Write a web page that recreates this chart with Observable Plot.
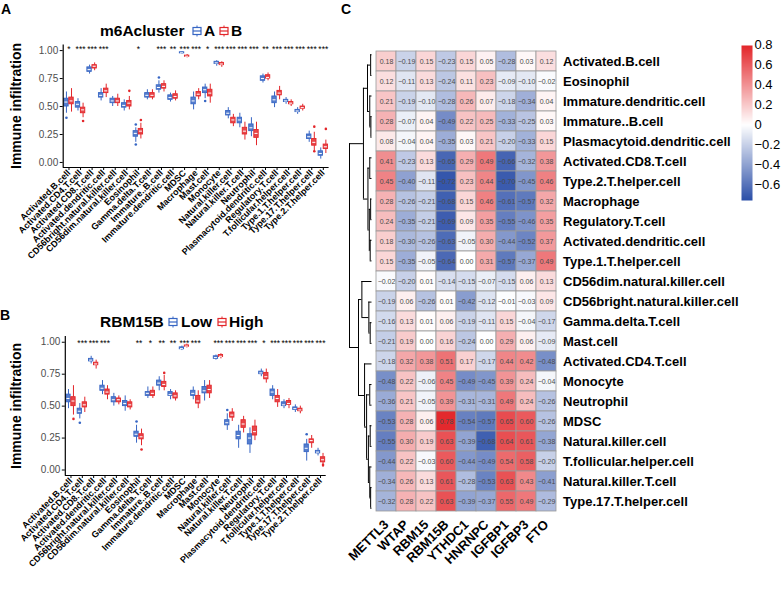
<!DOCTYPE html>
<html><head><meta charset="utf-8">
<script src="https://cdn.jsdelivr.net/npm/d3@7"></script>
<script src="https://cdn.jsdelivr.net/npm/@observablehq/plot@0.6"></script>
<style>
body{margin:0;background:#fff;}
#wrap{position:relative;width:784px;height:593px;overflow:hidden;font-family:"Liberation Sans",Arial,sans-serif;color:#000;}
.lbl{position:absolute;font-weight:bold;white-space:nowrap;line-height:1;}
</style></head><body><div id="wrap"></div>
<script>
// ---------------- DATA ----------------
const cells = ["Activated.B.cell","Activated.CD4.T.cell","Activated.CD8.T.cell","Activated.dendritic.cell","CD56bright.natural.killer.cell","CD56dim.natural.killer.cell","Eosinophil","Gamma.delta.T.cell","Immature..B.cell","Immature.dendritic.cell","MDSC","Macrophage","Mast.cell","Monocyte","Natural.killer.cell","Natural.killer.T.cell","Neutrophil","Plasmacytoid.dendritic.cell","Regulatory.T.cell","T.follicular.helper.cell","Type.1.T.helper.cell","Type.17.T.helper.cell","Type.2.T.helper.cell"];

// Panel A: m6Acluster A (blue) / B (red)
const clA_med = [.54,.52,.83,.60,.55,.51,.26,.60,.67,.58,.98,.55,.65,.89,.44,.38,.31,.75,.56,.55,.46,.23,.08];
const clA_q1  = [.50,.49,.81,.58,.53,.49,.23,.58,.65,.56,.975,.52,.62,.88,.42,.35,.28,.73,.53,.54,.45,.21,.06];
const clA_q3  = [.57,.54,.85,.62,.57,.53,.28,.62,.69,.60,.985,.58,.67,.90,.46,.40,.34,.77,.59,.56,.47,.25,.10];
const clA_lo  = [.44,.46,.79,.55,.50,.46,.18,.56,.62,.54,.965,.47,.57,.86,.39,.31,.23,.71,.49,.52,.43,.18,.03];
const clA_hi  = [.63,.57,.87,.66,.59,.56,.31,.65,.73,.62,.99,.63,.70,.91,.49,.44,.40,.79,.63,.58,.49,.28,.13];
const clB_med = [.55,.47,.86,.64,.55,.53,.28,.60,.68,.59,.95,.61,.62,.88,.38,.28,.26,.76,.62,.53,.49,.18,.14];
const clB_q1  = [.52,.44,.84,.62,.53,.50,.25,.58,.66,.57,.945,.59,.59,.87,.35,.25,.22,.75,.60,.52,.48,.15,.12];
const clB_q3  = [.58,.49,.87,.66,.57,.55,.30,.62,.70,.61,.955,.63,.65,.89,.40,.31,.29,.78,.64,.54,.50,.21,.16];
const clB_lo  = [.45,.40,.82,.58,.50,.47,.21,.56,.63,.55,.935,.56,.53,.85,.32,.20,.15,.73,.56,.50,.46,.10,.08];
const clB_hi  = [.66,.53,.89,.70,.61,.59,.35,.65,.73,.64,.965,.66,.70,.90,.43,.36,.36,.80,.68,.56,.52,.27,.20];
const clSig   = ["*","***","***","***","","","*","","***","**","***","***","*","***","***","***","***","**","***","***","***","***","***"];
const clA_outIdx = [0,6,6,8,12];
const clA_outVal = [.40,.16,.34,.76,.55];
const clB_outIdx = [1,5,6,21,21,22];
const clB_outVal = [.37,.64,.38,.32,.10,.30];

// Panel B: RBM15B Low (blue) / High (red)
const lowMed = [.56,.46,.86,.64,.55,.52,.28,.60,.68,.59,.95,.60,.62,.88,.37,.27,.25,.76,.61,.51,.48,.17,.14];
const lowQ1  = [.53,.44,.85,.62,.53,.50,.26,.58,.66,.58,.945,.58,.60,.87,.35,.24,.20,.75,.58,.50,.47,.14,.13];
const lowQ3  = [.59,.48,.87,.66,.57,.54,.30,.61,.70,.61,.96,.62,.65,.89,.39,.30,.28,.77,.63,.53,.49,.20,.15];
const lowLo  = [.48,.40,.83,.59,.50,.46,.21,.56,.62,.55,.935,.55,.54,.86,.31,.17,.13,.73,.55,.48,.45,.07,.11];
const lowHi  = [.63,.52,.89,.70,.60,.58,.35,.65,.73,.63,.97,.65,.70,.90,.44,.35,.33,.79,.66,.55,.51,.24,.17];
const highMed = [.54,.51,.83,.61,.55,.51,.26,.60,.67,.58,.97,.54,.63,.89,.43,.36,.30,.73,.56,.52,.47,.23,.08];
const highQ1  = [.50,.49,.82,.59,.53,.49,.24,.58,.65,.56,.965,.52,.60,.885,.41,.33,.27,.71,.53,.51,.46,.21,.06];
const highQ3  = [.57,.53,.84,.63,.56,.53,.28,.62,.69,.60,.975,.58,.66,.90,.45,.39,.34,.76,.58,.54,.48,.24,.10];
const highLo  = [.43,.45,.79,.55,.51,.47,.19,.56,.62,.54,.955,.48,.56,.87,.38,.29,.23,.68,.49,.48,.44,.17,.02];
const highHi  = [.66,.57,.86,.66,.58,.55,.32,.65,.74,.62,.985,.62,.70,.91,.48,.42,.39,.79,.63,.56,.50,.27,.13];
const rbSig   = ["","***","***","***","","","**","*","**","**","***","***","","***","***","***","***","*","***","***","***","***","***"];
const lowOutIdx = [1,6,14,21];
const lowOutVal = [.37,.38,.47,.28];
const highOutIdx = [0,6,8,22];
const highOutVal = [.40,.16,.76,.04];

// Panel C: correlation heatmap
const hmRows = ["Activated.B.cell","Eosinophil","Immature.dendritic.cell","Immature..B.cell","Plasmacytoid.dendritic.cell","Activated.CD8.T.cell","Type.2.T.helper.cell","Macrophage","Regulatory.T.cell","Activated.dendritic.cell","Type.1.T.helper.cell","CD56dim.natural.killer.cell","CD56bright.natural.killer.cell","Gamma.delta.T.cell","Mast.cell","Activated.CD4.T.cell","Monocyte","Neutrophil","MDSC","Natural.killer.cell","T.follicular.helper.cell","Natural.killer.T.cell","Type.17.T.helper.cell"];
const genes = ["METTL3","WTAP","RBM15","RBM15B","YTHDC1","HNRNPC","IGFBP1","IGFBP3","FTO"];
const METTL3 = [0.18,0.12,0.21,0.28,0.08,0.41,0.45,0.28,0.24,0.18,0.15,-0.02,-0.19,-0.16,-0.21,-0.18,-0.48,-0.36,-0.53,-0.55,-0.44,-0.34,-0.32];
const WTAP   = [-0.19,-0.11,-0.19,-0.07,-0.04,-0.23,-0.40,-0.26,-0.35,-0.30,-0.35,-0.20,0.06,0.13,0.19,0.32,0.22,0.21,0.28,0.30,0.22,0.26,0.28];
const RBM15  = [0.15,0.13,-0.10,0.04,0.04,0.13,-0.11,-0.21,-0.21,-0.26,-0.05,0.01,-0.26,0.01,0.00,0.38,-0.06,-0.05,0.06,0.19,-0.03,0.13,0.22];
const RBM15B = [-0.23,-0.24,-0.28,-0.49,-0.35,-0.65,-0.72,-0.68,-0.69,-0.63,-0.64,-0.14,0.01,0.06,0.16,0.51,0.45,0.39,0.78,0.63,0.60,0.61,0.63];
const YTHDC1 = [0.15,0.11,0.26,0.22,0.03,0.29,0.23,0.15,0.09,-0.05,0.00,-0.15,-0.42,-0.19,-0.24,0.17,-0.49,-0.31,-0.54,-0.39,-0.44,-0.28,-0.39];
const HNRNPC = [0.05,0.23,0.07,0.25,0.21,0.49,0.44,0.46,0.35,0.30,0.31,-0.07,-0.12,-0.11,-0.004,-0.17,-0.45,-0.31,-0.57,-0.68,-0.49,-0.53,-0.37];
const IGFBP1 = [-0.28,-0.09,-0.18,-0.33,-0.20,-0.66,-0.70,-0.61,-0.55,-0.44,-0.57,-0.15,-0.01,0.15,0.29,0.44,0.39,0.49,0.65,0.64,0.54,0.63,0.55];
const IGFBP3 = [0.03,-0.10,-0.34,-0.25,-0.33,-0.32,-0.45,-0.57,-0.46,-0.52,-0.37,0.06,-0.03,-0.04,0.06,0.42,0.24,0.24,0.60,0.61,0.58,0.43,0.49];
const FTO    = [0.12,-0.02,0.04,0.03,0.15,0.38,0.46,0.32,0.35,0.37,0.49,0.13,0.09,-0.17,-0.09,-0.48,-0.04,-0.26,-0.26,-0.38,-0.20,-0.41,-0.29];
const colorTicks = [-0.6,-0.4,-0.2,0,0.2,0.4,0.6,0.8];

// row dendrogram (hclust-style merges: negative = leaf (row index + 1), positive = earlier merge number)
const dendLeft   = [-1,-4,-3, 1,-8,-10, 5,-6, 8, 4,-14,-13,-12,-17,-19,-22,-21,15,14,-16,13,10];
const dendRight  = [-2,-5, 2, 3,-9,-11, 6,-7, 7, 9,-15, 11, 12,-18,-20,-23, 16,17,18, 19,20,21];
const dendHeight = [0.06,0.05,0.10,0.20,0.06,0.08,0.12,0.10,0.18,0.38,0.08,0.14,0.45,0.10,0.08,0.06,0.10,0.16,0.24,0.33,0.60,1.00];

// ---------------- DRAW ----------------
const W = 784, H = 593;
const wrap = document.getElementById("wrap");
const FONT = "'Liberation Sans', Arial, Helvetica, sans-serif";
const BLUE = "#3766c4", RED = "#e3262a";
const baseStyle = {position:"absolute", left:"0px", top:"0px", fontFamily:FONT, overflow:"visible", background:"transparent"};

function groupRows(med,q1,q3,lo,hi,off){
  return cells.map((c,i)=>({pos:i+off, med:med[i], q1:q1[i], q3:q3[i], lo:lo[i], hi:hi[i]}));
}
const BW = 0.19;
function boxMarks(rows, outIdx, outVal, off, color){
  const outs = outIdx.map((i,k)=>({pos:i+off, v:outVal[k]}));
  return [
    Plot.ruleX(rows,{x:"pos",y1:"lo",y2:"q1",stroke:color,strokeWidth:1}),
    Plot.ruleX(rows,{x:"pos",y1:"q3",y2:"hi",stroke:color,strokeWidth:1}),
    Plot.rect(rows,{x1:d=>d.pos-BW,x2:d=>d.pos+BW,y1:"q1",y2:"q3",fill:color,fillOpacity:0.85,stroke:color,strokeWidth:0.9}),
    Plot.ruleY(rows,{y:"med",x1:d=>d.pos-BW*0.7,x2:d=>d.pos+BW*0.7,stroke:"white",strokeWidth:1}),
    Plot.dot(outs,{x:"pos",y:"v",r:1.3,fill:color})
  ];
}
function boxPanel(o){
  const off = 0.22;
  const g1 = groupRows(...o.g1, -off), g2 = groupRows(...o.g2, off);
  return Plot.plot({
    width:W, height:H,
    marginLeft:o.left, marginRight:W-o.right, marginTop:o.top, marginBottom:H-o.bottom,
    style: baseStyle,
    x:{domain:[-0.5,22.5]},
    y:{domain:o.ydom},
    marks:[
      ...boxMarks(g1, o.o1[0], o.o1[1], -off, BLUE),
      ...boxMarks(g2, o.o2[0], o.o2[1], off, RED),
      Plot.text(o.sig.map((s,i)=>({i,s})),{x:"i",y:o.starY,text:"s",fontSize:8.5,fill:"black"}),
      Plot.ruleX([-0.5],{stroke:"black",strokeWidth:1.2}),
      Plot.ruleY([o.ydom[0]],{stroke:"black",strokeWidth:1.2}),
      Plot.axisY({ticks:[0,0.25,0.5,0.75,1],tickFormat:d3.format(".2f"),tickSize:3,tickPadding:2,fontSize:10,fill:"#4d4d4d",stroke:"black",label:null}),
      Plot.axisX({ticks:d3.range(cells.length),tickFormat:i=>cells[i],tickRotate:-45,tickSize:3,tickPadding:1,fontSize:9,fontWeight:"bold",fill:"black",stroke:"black",label:null})
    ]
  });
}

wrap.appendChild(boxPanel({
  left:62.7, right:328.6, top:44.5, bottom:167, ydom:[-0.045,1.05], starY:1.01,
  g1:[clA_med,clA_q1,clA_q3,clA_lo,clA_hi], g2:[clB_med,clB_q1,clB_q3,clB_lo,clB_hi],
  o1:[clA_outIdx,clA_outVal], o2:[clB_outIdx,clB_outVal], sig:clSig
}));
wrap.appendChild(boxPanel({
  left:64.8, right:325.7, top:336, bottom:475, ydom:[-0.043,1.045], starY:0.99,
  g1:[lowMed,lowQ1,lowQ3,lowLo,lowHi], g2:[highMed,highQ1,highQ3,highLo,highHi],
  o1:[lowOutIdx,lowOutVal], o2:[highOutIdx,highOutVal], sig:rbSig
}));

// heatmap
const geneVals = {METTL3,WTAP,RBM15,RBM15B,YTHDC1,HNRNPC,IGFBP1,IGFBP3,FTO};
const hmData = [];
hmRows.forEach((r,i)=>genes.forEach(g=>hmData.push({row:r, gene:g, v:geneVals[g][i]})));
const colorScale = {type:"linear", domain:[-0.756,0,0.79], range:["#2b4ea8","#ffffff","#e3262a"], interpolate:"rgb", clamp:true};
const fmt = v => d3.format(".2f")(v).replace("-", "\u2212");
const fmtLegend = v => String(v).replace("-", "\u2212");
wrap.appendChild(Plot.plot({
  width:W, height:H, marginLeft:373, marginRight:W-558.5, marginTop:44, marginBottom:H-518,
  style: baseStyle,
  x:{domain:genes, padding:0},
  y:{domain:hmRows, padding:0},
  color: colorScale,
  marks:[
    Plot.cell(hmData,{x:"gene",y:"row",fill:"v",stroke:"#9a9a9a",strokeWidth:0.8}),
    Plot.text(hmData,{x:"gene",y:"row",text:d=>fmt(d.v),fontSize:7,fill:"#4a4a4a"}),
    Plot.axisY({anchor:"right",tickSize:0,tickPadding:4,fontSize:13,fontWeight:"bold",fill:"black",label:null}),
    Plot.axisX({anchor:"bottom",tickSize:0,tickPadding:4,tickRotate:-45,fontSize:13,fontWeight:"bold",fill:"black",label:null})
  ]
}));

// dendrogram
const nLeaf = hmRows.length;
const nodes = [];
function nodePos(ref){ return ref < 0 ? {y:-ref-1, h:0} : nodes[ref-1]; }
const vSeg = [], hSeg = [];
dendLeft.forEach((l,k)=>{
  const a = nodePos(l), b = nodePos(dendRight[k]), h = dendHeight[k];
  vSeg.push({x:h, y1:a.y, y2:b.y});
  hSeg.push({y:a.y, x1:a.h, x2:h});
  hSeg.push({y:b.y, x1:b.h, x2:h});
  nodes.push({y:(a.y+b.y)/2, h});
});
wrap.appendChild(Plot.plot({
  width:W, height:H, marginLeft:349, marginRight:W-371.5, marginTop:44, marginBottom:H-518,
  style: baseStyle,
  x:{domain:[1,0], axis:null},
  y:{domain:[-0.5,nLeaf-0.5], reverse:true, axis:null},
  marks:[
    Plot.ruleX(vSeg,{x:"x",y1:"y1",y2:"y2",stroke:"black",strokeWidth:1}),
    Plot.ruleY(hSeg,{y:"y",x1:"x1",x2:"x2",stroke:"black",strokeWidth:1})
  ]
}));

// colour bar
wrap.appendChild(Plot.plot({
  width:W, height:H, marginLeft:741, marginRight:W-752, marginTop:45, marginBottom:H-200,
  style: baseStyle,
  x:{domain:[0,1], axis:null},
  y:{domain:[-0.756,0.79]},
  color: colorScale,
  marks:[
    Plot.raster({x1:0,x2:1,y1:-0.756,y2:0.79,fill:(x,y)=>y,pixelSize:1}),
    Plot.axisY({anchor:"right",ticks:colorTicks,tickFormat:fmtLegend,tickSize:0,tickPadding:2,fontSize:13,fill:"black",label:null})
  ]
}));

// ---------------- TEXT / LEGENDS ----------------
function addText(txt, x, y, size, extra){
  const d = document.createElement("div");
  d.className = "lbl"; d.textContent = txt;
  d.style.left = x+"px"; d.style.top = y+"px"; d.style.fontSize = size+"px";
  if (extra) Object.assign(d.style, extra);
  wrap.appendChild(d); return d;
}
function boxIcon(x, y, color){
  const ns = "http://www.w3.org/2000/svg";
  const s = document.createElementNS(ns,"svg");
  s.setAttribute("width",10); s.setAttribute("height",12);
  s.style.position="absolute"; s.style.left=x+"px"; s.style.top=y+"px";
  s.innerHTML = `<line x1="5" y1="0.5" x2="5" y2="11.5" stroke="${color}" stroke-width="1"/>
    <rect x="1" y="2.5" width="8" height="7" fill="white" stroke="${color}" stroke-width="1.2"/>
    <line x1="1" y1="6" x2="9" y2="6" stroke="${color}" stroke-width="1.2"/>`;
  wrap.appendChild(s);
}
addText("A", 1, 2, 14);
addText("B", 0, 308, 14);
addText("C", 341, 2, 14);
// panel A title & legend
addText("m6Acluster", 100, 23, 15.5);
boxIcon(192, 25, BLUE); addText("A", 204, 23, 15.5);
boxIcon(219, 25, RED); addText("B", 231, 23, 15.5);
// panel B title & legend
addText("RBM15B", 100, 314, 15.5);
boxIcon(168, 316, BLUE); addText("Low", 181, 314, 15.5);
boxIcon(217, 316, RED); addText("High", 229, 314, 15.5);
// y titles
addText("Immune infiltration", 16, 106, 14, {transform:"translate(-50%,-50%) rotate(-90deg)"});
addText("Immune infiltration", 16, 406, 14, {transform:"translate(-50%,-50%) rotate(-90deg)"});
</script>
</body></html>
